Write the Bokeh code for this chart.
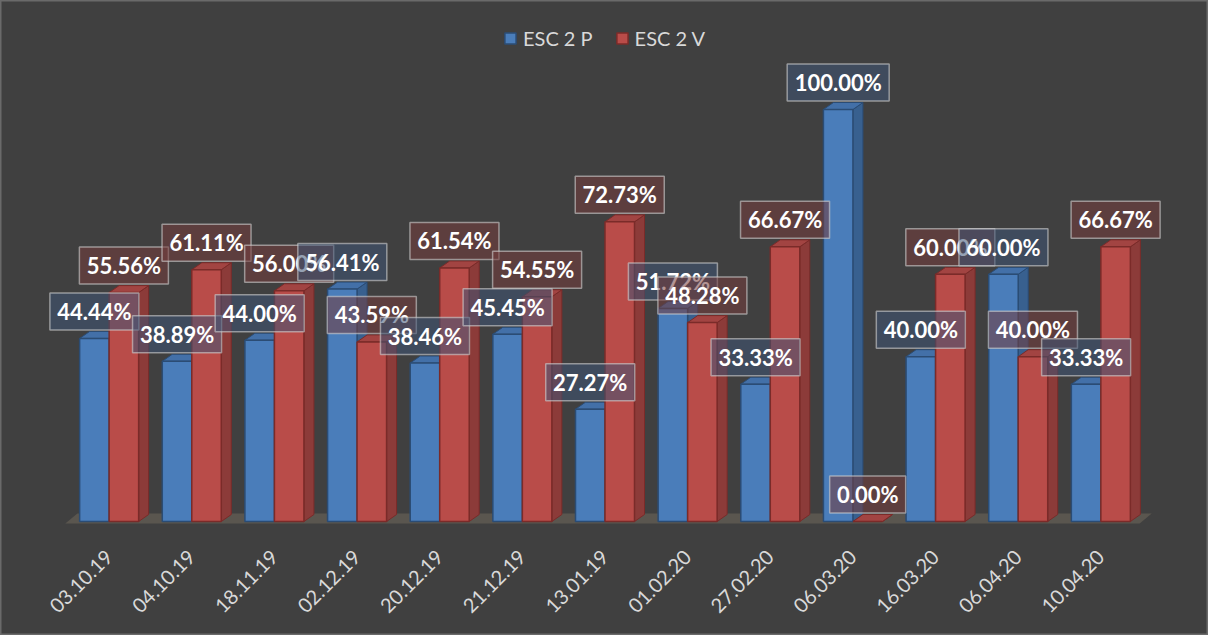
import numpy as np
from bokeh.plotting import figure
from bokeh.models import Range1d, Legend, LegendItem
from bokeh.embed import file_html
from bokeh.resources import INLINE
from bokeh.core.properties import value

# ---- data ----
categories = ["03.10.19", "04.10.19", "18.11.19", "02.12.19", "20.12.19", "21.12.19",
              "13.01.19", "01.02.20", "27.02.20", "06.03.20", "16.03.20", "06.04.20", "10.04.20"]
esc2p = [44.44, 38.89, 44.00, 56.41, 38.46, 45.45, 27.27, 51.72, 33.33, 100.00, 40.00, 60.00, 33.33]
esc2v = [55.56, 61.11, 56.00, 43.59, 61.54, 54.55, 72.73, 48.28, 66.67, 0.00, 60.00, 40.00, 66.67]
series_names = ["ESC 2 P", "ESC 2 V"]

# ---- geometry (screen scale helpers) ----
n = len(categories)
W, H = 1208, 635
PX_X = 1157 / (n + 1)          # px per category unit
PX_Y = 4.12                    # px per percent
BASE = 521                     # px from top where 0% sits
BW = 29.5 / PX_X               # bar width in data units
DX = 10 / PX_X                 # 3D depth x
DY = 7 / PX_Y                  # 3D depth y

x0 = -1 - 26 / PX_X
x1 = x0 + W / PX_X
y1 = BASE / PX_Y
y0 = -(H - BASE) / PX_Y

p = figure(width=W, height=H, x_range=Range1d(x0, x1), y_range=Range1d(y0, y1),
           output_backend="svg", toolbar_location=None,
           min_border_left=0, min_border_right=0, min_border_top=0, min_border_bottom=0,
           background_fill_color="#404040", border_fill_color="#404040")
p.outline_line_color = "#6a6a6a"
p.outline_line_width = 2
p.grid.visible = False
p.axis.visible = False

# floor
fdx = 12 / PX_X
fdy = 10 / PX_Y
fy = -2 / PX_Y
p.patch([-0.53, n - 0.53, n - 0.53 + fdx, -0.53 + fdx], [fy, fy, fy + fdy, fy + fdy],
        fill_color="#5a564f", line_color=None)

styles = [
    dict(front="#4a7dba", side="#38608f", top="#4370a8", line="#2b4c74",
         lab_fill="#3e5474"),
    dict(front="#b94c49", side="#8c3b39", top="#a24442", line="#7a2b29",
         lab_fill="#743c3c"),
]

fronts = []
for k, (vals, off) in enumerate([(esc2p, -BW), (esc2v, 0.0)]):
    st = styles[k]
    xs_side, ys_side, xs_top, ys_top = [], [], [], []
    lefts, rights, tops = [], [], []
    for i, v in enumerate(vals):
        l = i + off
        r = l + BW
        lefts.append(l); rights.append(r); tops.append(v)
        xs_side.append([r, r + DX, r + DX, r]); ys_side.append([0, DY, v + DY, v])
        xs_top.append([l, r, r + DX, l + DX]); ys_top.append([v, v, v + DY, v + DY])
    p.patches(xs_side, ys_side, fill_color=st["side"], line_color=st["line"], line_width=1)
    p.patches(xs_top, ys_top, fill_color=st["top"], line_color=st["line"], line_width=1)
    fr = p.quad(left=lefts, right=rights, bottom=0, top=tops,
                fill_color=st["front"], line_color=st["line"], line_width=1.5)
    fronts.append(fr)

# data labels, interleaved per category (box then text)
for i in range(n):
    for k, (vals, off) in enumerate([(esc2p, -BW), (esc2v, 0.0)]):
        v = vals[i]
        txt = f"{v:.2f}%"
        x = i + off + BW / 2
        y = v + 27 / PX_Y
        p.rect(x=[x], y=[y], width=13 * len(txt) + 11, height=37,
               width_units="screen", height_units="screen",
               fill_color=styles[k]["lab_fill"], fill_alpha=0.55,
               line_color="#d0d0d0", line_alpha=0.6, line_width=1.5)
        p.text(x=[x], y=[y], text=[txt], text_align="center", text_baseline="middle",
               text_color="white", text_font=value("Lato"), text_font_style="bold",
               text_font_size="22px")

# category labels (rotated 45°)
p.text(x=list(range(n)), y=[-(553 - BASE) / PX_Y] * n, text=categories,
       angle=np.pi / 4, text_align="right", text_baseline="middle",
       text_color="#d9d9d9", text_font=value("Lato"), text_font_size="20px")

legend = Legend(items=[LegendItem(label=series_names[0], renderers=[fronts[0]]),
                       LegendItem(label=series_names[1], renderers=[fronts[1]])],
                location="top_center", orientation="horizontal",
                background_fill_alpha=0, border_line_color=None,
                label_text_color="#d9d9d9", label_text_font="Lato", label_text_font_size="20px",
                glyph_width=14, glyph_height=14, label_standoff=6, spacing=22,
                margin=26, padding=0)
p.add_layout(legend)

open("out.html", "w").write(file_html(p, INLINE))
